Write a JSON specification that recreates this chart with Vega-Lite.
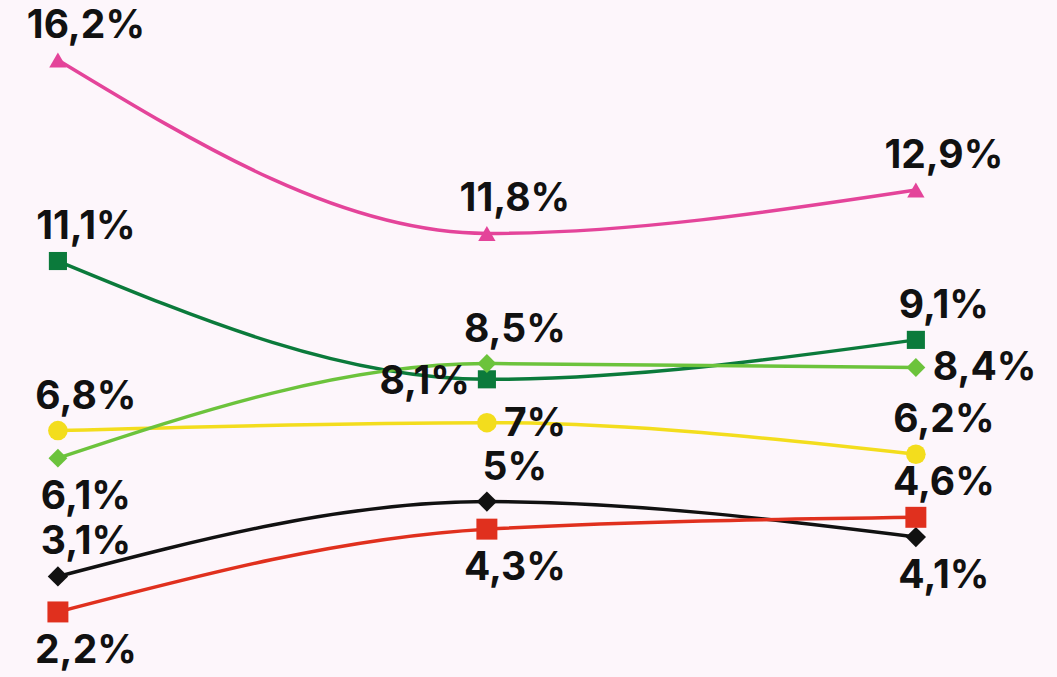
{
  "$schema": "https://vega.github.io/schema/vega-lite/v6.json",
  "width": 1057,
  "height": 677,
  "padding": 0,
  "autosize": {"type": "fit", "contains": "padding"},
  "background": "#fdf6fb",
  "config": {"view": {"stroke": null}},
  "data": {
    "values": [
      {"s": "P", "t": 1, "v": 16.2}, {"s": "P", "t": 2, "v": 11.8}, {"s": "P", "t": 3, "v": 12.9},
      {"s": "DG", "t": 1, "v": 11.1}, {"s": "DG", "t": 2, "v": 8.1}, {"s": "DG", "t": 3, "v": 9.1},
      {"s": "Y", "t": 1, "v": 6.8}, {"s": "Y", "t": 2, "v": 7}, {"s": "Y", "t": 3, "v": 6.2},
      {"s": "LG", "t": 1, "v": 6.1}, {"s": "LG", "t": 2, "v": 8.5}, {"s": "LG", "t": 3, "v": 8.4},
      {"s": "K", "t": 1, "v": 3.1}, {"s": "K", "t": 2, "v": 5}, {"s": "K", "t": 3, "v": 4.1},
      {"s": "R", "t": 1, "v": 2.2}, {"s": "R", "t": 2, "v": 4.3}, {"s": "R", "t": 3, "v": 4.6}
    ]
  },
  "transform": [
    {"calculate": "replace(format(datum.v, '.1~f'), '.', ',') + '%'", "as": "label"}
  ],
  "encoding": {
    "x": {"field": "t", "type": "quantitative", "scale": {"domain": [0.865, 3.329], "nice": false, "zero": false}, "axis": null},
    "y": {"field": "v", "type": "quantitative", "scale": {"domain": [0.55, 17.72], "nice": false, "zero": false}, "axis": null}
  },
  "layer": [
    {
      "mark": {"type": "line", "interpolate": "monotone", "strokeWidth": 3.5},
      "encoding": {
        "color": {"field": "s", "type": "nominal", "legend": null,
          "scale": {"domain": ["P", "DG", "LG", "Y", "K", "R"], "range": ["#e4449a", "#0b7a3b", "#6cc33c", "#f3dd1d", "#111111", "#e0301e"]}},
        "detail": {"field": "s"}
      }
    },
    {
      "mark": {"type": "point", "filled": true, "opacity": 1},
      "encoding": {
        "color": {"field": "s", "type": "nominal", "legend": null,
          "scale": {"domain": ["P", "DG", "LG", "Y", "K", "R"], "range": ["#e4449a", "#0b7a3b", "#6cc33c", "#f3dd1d", "#111111", "#e0301e"]}},
        "shape": {"field": "s", "type": "nominal", "legend": null,
          "scale": {"domain": ["P", "DG", "LG", "Y", "K", "R"], "range": ["triangle-up", "square", "diamond", "circle", "diamond", "square"]}},
        "size": {"field": "s", "type": "nominal", "legend": null,
          "scale": {"domain": ["P", "DG", "LG", "Y", "K", "R"], "range": [300, 440, 180, 400, 230, 400]}}
      }
    },
    {
      "transform": [{"filter": "!((datum.s=='LG'&&datum.t==1)||(datum.s=='R'&&datum.t==1)||(datum.s=='R'&&datum.t==2)||(datum.s=='K'&&datum.t==3)||(datum.s=='DG'&&datum.t==2)||(datum.s=='Y'&&datum.t==2)||(datum.s=='LG'&&datum.t==3))"}],
      "mark": {"type": "text", "font": "Inter", "fontSize": 39, "fontWeight": "bold", "color": "#111111", "align": "center", "baseline": "alphabetic", "dx": 28, "dy": -22},
      "encoding": {"text": {"field": "label"}}
    },
    {
      "transform": [{"filter": "(datum.s=='LG'&&datum.t==1)||(datum.s=='R'&&datum.t==1)||(datum.s=='R'&&datum.t==2)||(datum.s=='K'&&datum.t==3)"}],
      "mark": {"type": "text", "font": "Inter", "fontSize": 39, "fontWeight": "bold", "color": "#111111", "align": "center", "baseline": "alphabetic", "dx": 28, "dy": 51},
      "encoding": {"text": {"field": "label"}}
    },
    {
      "transform": [{"filter": "datum.s=='DG'&&datum.t==2"}],
      "mark": {"type": "text", "font": "Inter", "fontSize": 39, "fontWeight": "bold", "color": "#111111", "align": "right", "baseline": "alphabetic", "dx": -17, "dy": 15},
      "encoding": {"text": {"field": "label"}}
    },
    {
      "transform": [{"filter": "(datum.s=='Y'&&datum.t==2)||(datum.s=='LG'&&datum.t==3)"}],
      "mark": {"type": "text", "font": "Inter", "fontSize": 39, "fontWeight": "bold", "color": "#111111", "align": "left", "baseline": "alphabetic", "dx": 17, "dy": 13},
      "encoding": {"text": {"field": "label"}}
    }
  ]
}
